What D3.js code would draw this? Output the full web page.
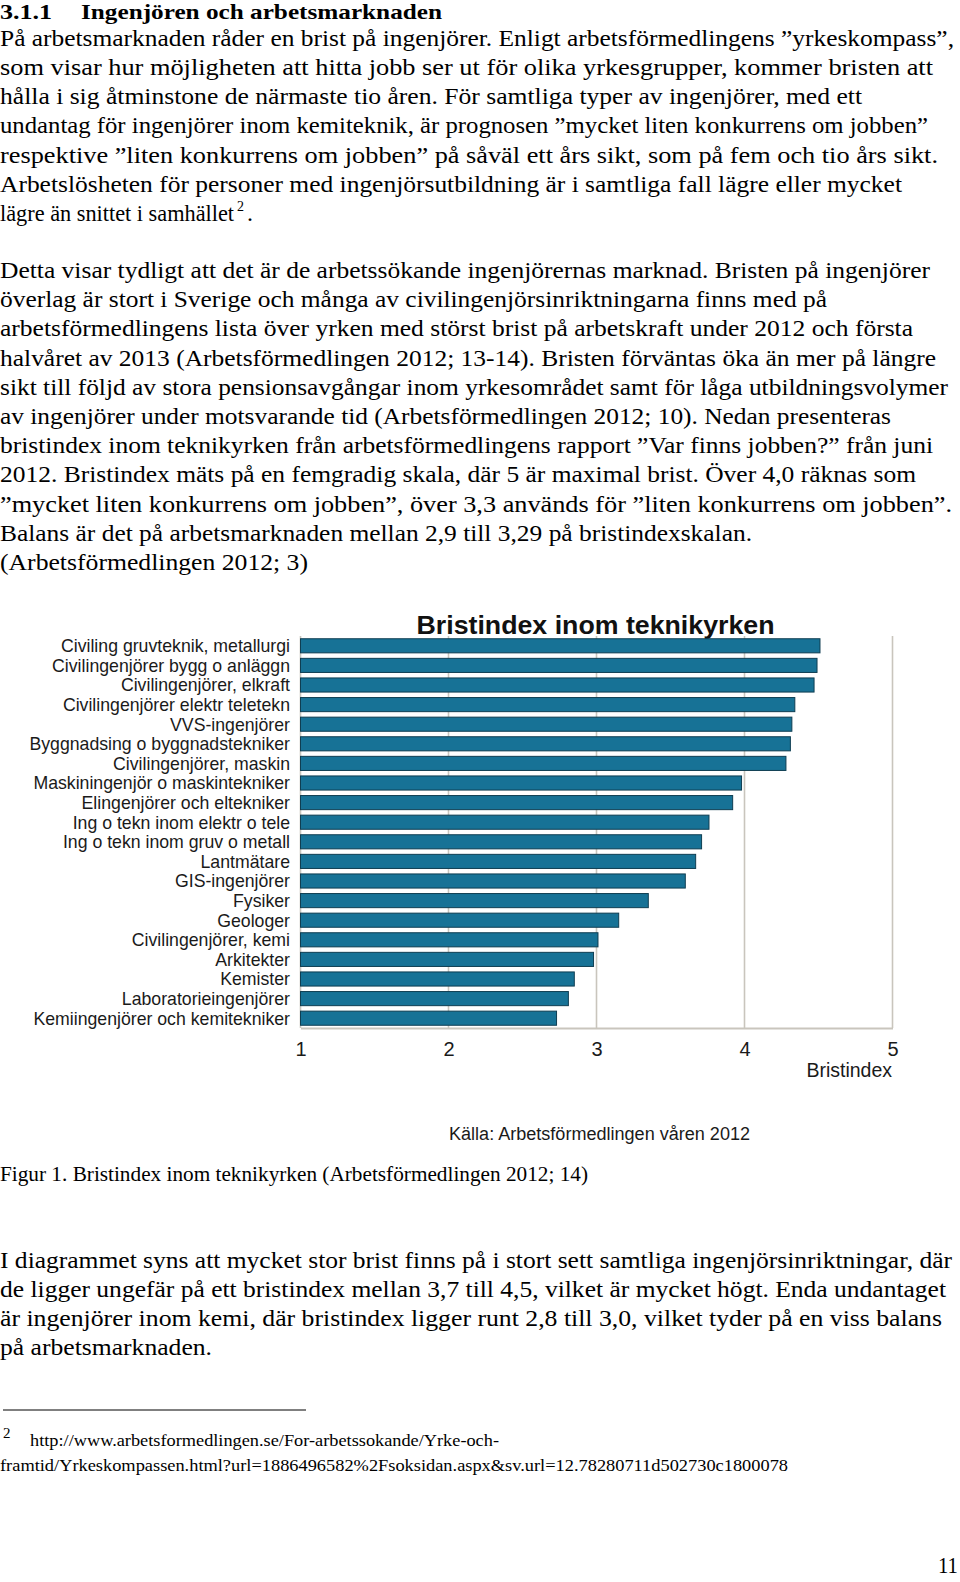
<!DOCTYPE html>
<html lang="sv">
<head>
<meta charset="UTF-8">
<title>Bristindex inom teknikyrken</title>
<script src="https://cdn.jsdelivr.net/npm/d3@7"></script>
<style>
  body { margin: 0; background: #fff; }
  .serif { font-family: "Liberation Serif", "Times New Roman", serif; fill: #000; }
  .sans { font-family: "Liberation Sans", Arial, Helvetica, sans-serif; fill: #1a1a1a; }
</style>
</head>
<body>
<svg id="page" width="960" height="1582"></svg>
<script>
// chart data
const categories = [
  "Civiling gruvteknik, metallurgi",
  "Civilingenjörer bygg o anläggn",
  "Civilingenjörer, elkraft",
  "Civilingenjörer elektr teletekn",
  "VVS-ingenjörer",
  "Byggnadsing o byggnadstekniker",
  "Civilingenjörer, maskin",
  "Maskiningenjör o maskintekniker",
  "Elingenjörer och eltekniker",
  "Ing o tekn inom elektr o tele",
  "Ing o tekn inom gruv o metall",
  "Lantmätare",
  "GIS-ingenjörer",
  "Fysiker",
  "Geologer",
  "Civilingenjörer, kemi",
  "Arkitekter",
  "Kemister",
  "Laboratorieingenjörer",
  "Kemiingenjörer och kemitekniker"
];
const values = [4.51, 4.49, 4.47, 4.34, 4.32, 4.31, 4.28, 3.98, 3.92, 3.76,
                3.71, 3.67, 3.60, 3.35, 3.15, 3.01, 2.98, 2.85, 2.81, 2.73];
const tickValues = [1, 2, 3, 4, 5];
const chartTitle = "Bristindex inom teknikyrken";
const axisTitle = "Bristindex";
const sourceNote = "Källa: Arbetsförmedlingen våren 2012";

// page text
const para1 = [
  "På arbetsmarknaden råder en brist på ingenjörer. Enligt arbetsförmedlingens ”yrkeskompass”,",
  "som visar hur möjligheten att hitta jobb ser ut för olika yrkesgrupper, kommer bristen att",
  "hålla i sig åtminstone de närmaste tio åren. För samtliga typer av ingenjörer, med ett",
  "undantag för ingenjörer inom kemiteknik, är prognosen ”mycket liten konkurrens om jobben”",
  "respektive ”liten konkurrens om jobben” på såväl ett års sikt, som på fem och tio års sikt.",
  "Arbetslösheten för personer med ingenjörsutbildning är i samtliga fall lägre eller mycket"
];
const para2 = [
  "Detta visar tydligt att det är de arbetssökande ingenjörernas marknad. Bristen på ingenjörer",
  "överlag är stort i Sverige och många av civilingenjörsinriktningarna finns med på",
  "arbetsförmedlingens lista över yrken med störst brist på arbetskraft under 2012 och första",
  "halvåret av 2013 (Arbetsförmedlingen 2012; 13-14). Bristen förväntas öka än mer på längre",
  "sikt till följd av stora pensionsavgångar inom yrkesområdet samt för låga utbildningsvolymer",
  "av ingenjörer under motsvarande tid (Arbetsförmedlingen 2012; 10). Nedan presenteras",
  "bristindex inom teknikyrken från arbetsförmedlingens rapport ”Var finns jobben?” från juni",
  "2012. Bristindex mäts på en femgradig skala, där 5 är maximal brist. Över 4,0 räknas som",
  "”mycket liten konkurrens om jobben”, över 3,3 används för ”liten konkurrens om jobben”.",
  "Balans är det på arbetsmarknaden mellan 2,9 till 3,29 på bristindexskalan.",
  "(Arbetsförmedlingen 2012; 3)"
];
const para3 = [
  "I diagrammet syns att mycket stor brist finns på i stort sett samtliga ingenjörsinriktningar, där",
  "de ligger ungefär på ett bristindex mellan 3,7 till 4,5, vilket är mycket högt. Enda undantaget",
  "är ingenjörer inom kemi, där bristindex ligger runt 2,8 till 3,0, vilket tyder på en viss balans",
  "på arbetsmarknaden."
];
const caption = "Figur 1. Bristindex inom teknikyrken (Arbetsförmedlingen 2012; 14)";
const footnote = [
  "http://www.arbetsformedlingen.se/For-arbetssokande/Yrke-och-",
  "framtid/Yrkeskompassen.html?url=1886496582%2Fsoksidan.aspx&sv.url=12.78280711d502730c1800078"
];

// line widths measured on the page
const para1Widths = [954, 933, 862, 928, 938, 902];
const para2Widths = [930, 827, 913, 936, 948, 891, 933, 916, 952, 752, 308];
const para3Widths = [952, 946, 942, 212];

const svg = d3.select("#page");

function writeLines(lines, widths, y0, step, size) {
  svg.append("g").selectAll("text")
    .data(lines)
    .join("text")
    .attr("class", "serif")
    .attr("x", 0)
    .attr("y", (d, i) => y0 + i * step)
    .attr("font-size", size)
    .attr("textLength", (d, i) => widths[i])
    .attr("lengthAdjust", "spacingAndGlyphs")
    .text(d => d);
}

// heading
svg.append("text").attr("class", "serif").attr("x", 0).attr("y", 19)
  .attr("font-size", 22).attr("font-weight", "bold")
  .attr("textLength", 52).attr("lengthAdjust", "spacingAndGlyphs").text("3.1.1");
svg.append("text").attr("class", "serif").attr("x", 81).attr("y", 19)
  .attr("font-size", 22).attr("font-weight", "bold")
  .attr("textLength", 361).attr("lengthAdjust", "spacingAndGlyphs")
  .text("Ingenjören och arbetsmarknaden");

writeLines(para1, para1Widths, 46.1, 29.1, 24);
// last line with footnote mark, one text element
const lastLine = svg.append("text").attr("class", "serif")
  .attr("x", 0).attr("y", 220.7).attr("font-size", 24);
lastLine.append("tspan")
  .attr("textLength", 234).attr("lengthAdjust", "spacingAndGlyphs")
  .text("lägre än snittet i samhället");
lastLine.append("tspan").attr("x", 237).attr("dy", -10)
  .attr("font-size", 14).text("2");
lastLine.append("tspan").attr("x", 247).attr("dy", 10).text(".");

writeLines(para2, para2Widths, 278, 29.2, 24);

// ---- chart ----
const x = d3.scaleLinear().domain([1, 5]).range([300.5, 892.5]);
const y = d3.scaleBand().domain(categories).range([636, 1028])
  .paddingInner(0.28).paddingOuter(0.14);
const plotTop = 636, plotBottom = 1028;

const chart = svg.append("g");

chart.append("text").attr("class", "sans")
  .attr("x", 595.5).attr("y", 634)
  .attr("text-anchor", "middle")
  .attr("font-size", 26).attr("font-weight", "bold")
  .attr("textLength", 358).attr("lengthAdjust", "spacingAndGlyphs")
  .style("fill", "#111")
  .text(chartTitle);

// vertical grid
chart.append("g").selectAll("line")
  .data(tickValues)
  .join("line")
  .attr("x1", d => x(d)).attr("x2", d => x(d))
  .attr("y1", plotTop).attr("y2", plotBottom)
  .attr("stroke", "#c9c5bd")
  .attr("stroke-width", 1.6);

// bars
chart.append("g").selectAll("rect")
  .data(categories)
  .join("rect")
  .attr("x", x(1))
  .attr("y", d => y(d))
  .attr("width", (d, i) => x(values[i]) - x(1))
  .attr("height", y.bandwidth())
  .attr("fill", "#177296")
  .attr("stroke", "#0f3e52")
  .attr("stroke-width", 1);

// category labels
chart.append("g").selectAll("text")
  .data(categories)
  .join("text")
  .attr("class", "sans")
  .attr("x", 290)
  .attr("y", d => y(d) + y.bandwidth() / 2)
  .attr("dy", "0.36em")
  .attr("text-anchor", "end")
  .attr("font-size", 17.7)
  .text(d => d);

// x axis
const xAxis = chart.append("g")
  .attr("transform", `translate(0,${plotBottom})`)
  .call(d3.axisBottom(x).tickValues(tickValues).tickSize(0).tickPadding(14)
    .tickFormat(d3.format("d")));
xAxis.select(".domain").attr("stroke", "#c9c5bd").attr("stroke-width", 1.8);
xAxis.selectAll("text")
  .attr("class", "sans")
  .attr("font-size", 20)
  .style("font-family", "'Liberation Sans', Arial, sans-serif")
  .style("fill", "#1a1a1a");

chart.append("text").attr("class", "sans")
  .attr("x", 892).attr("y", 1077)
  .attr("text-anchor", "end")
  .attr("font-size", 19.5)
  .text(axisTitle);

chart.append("text").attr("class", "sans")
  .attr("x", 449).attr("y", 1140)
  .attr("font-size", 18)
  .attr("textLength", 301).attr("lengthAdjust", "spacingAndGlyphs")
  .text(sourceNote);

// caption and closing paragraph
svg.append("text").attr("class", "serif").attr("x", 0).attr("y", 1181)
  .attr("font-size", 20).attr("textLength", 588).attr("lengthAdjust", "spacingAndGlyphs")
  .text(caption);

writeLines(para3, para3Widths, 1267.5, 29.2, 24);

// footnote
svg.append("line").attr("x1", 3).attr("x2", 306).attr("y1", 1410).attr("y2", 1410)
  .attr("stroke", "#000").attr("stroke-width", 1);
svg.append("text").attr("class", "serif").attr("x", 3).attr("y", 1438)
  .attr("font-size", 15).text("2");
svg.append("text").attr("class", "serif").attr("x", 30).attr("y", 1446)
  .attr("font-size", 17).attr("textLength", 469).attr("lengthAdjust", "spacingAndGlyphs")
  .text(footnote[0]);
svg.append("text").attr("class", "serif").attr("x", 0).attr("y", 1471)
  .attr("font-size", 17).attr("textLength", 788).attr("lengthAdjust", "spacingAndGlyphs")
  .text(footnote[1]);

// page number
svg.append("text").attr("class", "serif").attr("x", 938).attr("y", 1573)
  .attr("font-size", 24).attr("textLength", 20).attr("lengthAdjust", "spacingAndGlyphs")
  .text("11");
</script>
</body>
</html>
